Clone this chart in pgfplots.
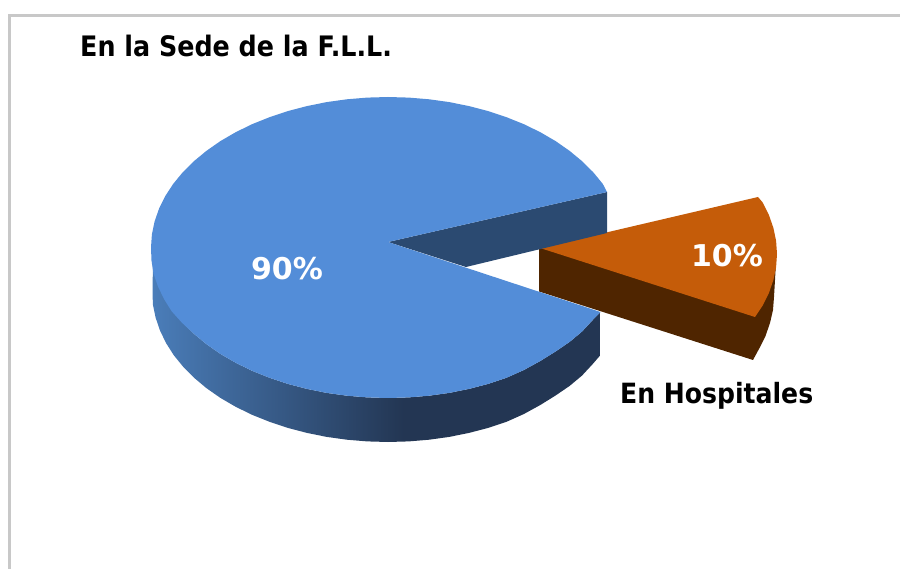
\documentclass[border=0pt]{standalone}
\usepackage{pgfplots}
\pgfplotsset{compat=1.18}
\usepackage{fontspec}
\setmainfont{DejaVu Sans}
\newfontfamily\cond{DejaVu Sans Condensed}
\definecolor{bluetop}{HTML}{538DD8}
\definecolor{bluein}{HTML}{2B4A71}
\definecolor{bluedark}{HTML}{233653}
\definecolor{blueleft}{HTML}{4A7DB9}
\definecolor{orangetop}{HTML}{C55C09}
\definecolor{orangewall}{HTML}{4F2500}
\definecolor{framegray}{HTML}{C8C8C8}
\pgfdeclarehorizontalshading{bluewall}{100bp}{
  color(0bp)=(blueleft); color(25bp)=(blueleft); color(53bp)=(bluedark); color(100bp)=(bluedark)}
\begin{document}
\begin{tikzpicture}
\begin{axis}[
  hide axis, scale only axis, width=900pt, height=569pt,
  xmin=0, xmax=900, ymin=0, ymax=569, y dir=reverse,
  no markers, clip=true]
% frame
\addplot[draw=framegray, line width=3pt] coordinates {(9.5,569)(9.5,15.5)(900,15.5)};
% orange slice, wall
\addplot[fill=orangewall, draw=none] coordinates {
(539,248)(776,262)(775,280)(774,297)(773,310)(770,323)(765.5,336)(759.5,348)(753,360)(539,291.5)(539,248)};
% orange slice, top
\addplot[fill=orangetop, draw=none] coordinates {
(540,248)(758,197)(762.7,202.5)(768.9,215)(773.4,227.9)(776.1,240.9)(777,254)(776.1,267.1)(773.4,280.1)(768.9,293)(762.7,305.5)(755,317)(540,248)};
% blue slice, inner wall
\addplot[fill=bluein, draw=none] coordinates {
(388,242)(607,192)(607,233)(466,267)(388,242)};
% blue slice, outer wall
\addplot[shade, shading=bluewall, draw=none] coordinates {
(153,262)(154.6,273.6)(159.1,286.5)(165.3,299)(173.2,311.1)(182.8,322.8)(193.9,333.8)(206.5,344.2)(220.4,353.9)(235.7,362.8)(252.1,370.8)(269.5,377.8)(287.8,383.9)(306.9,388.9)(326.7,392.9)(346.8,395.7)(367.3,397.4)(388,398)(408.7,397.4)(429.2,395.7)(449.3,392.9)(469.1,388.9)(488.2,383.9)(506.5,377.8)(523.9,370)(540.3,361)(555.6,351.5)(569.5,342)(582.1,331.5)(593.2,319.5)(600.5,312)
(600.5,355)(593.2,363.5)(582.1,375.5)(569.5,386)(555.6,395.5)(540.3,405)(523.9,414)(506.5,421.8)(488.2,427.9)(469.1,432.9)(449.3,436.9)(429.2,439.7)(408.7,441.4)(388,442)(367.3,441.4)(346.8,439.7)(326.7,436.9)(306.9,432.9)(287.8,427.9)(269.5,421.8)(252.1,414.8)(235.7,406.8)(220.4,397.9)(206.5,388.2)(194.1,377.8)(183.2,366.8)(173.7,355.1)(166,343)(160,330.5)(155.6,317.6)(152.9,304.6)(152.5,291.5)(153,262)};
% blue slice, top
\addplot[fill=bluetop, draw=none] coordinates {
(388,242)(607,192)(602.8,183.9)(593.2,172.2)(582.1,161.2)(569.5,150.8)(555.6,141.1)(540.3,132.2)(523.9,124.2)(506.5,117.2)(488.2,111.1)(469.1,106.1)(449.3,102.1)(429.2,99.3)(408.7,97.6)(388,97)
(367.3,97.6)(346.8,99.3)(326.7,102.1)(306.9,106.1)(287.8,111.1)(269.5,117.2)(252.1,124.2)(235.7,132.2)(220.4,141.1)(206.5,150.8)(193.9,161.2)(182.8,172.2)(173.2,183.9)(165.3,196)(159.1,208.5)(154.6,221.4)(151.9,234.4)(151,247.5)
(151.5,260.6)(153.5,273.6)(158,286.5)(164,299)(171.5,311.1)(182,322.8)(193.9,333.8)(206.5,344.2)(220.4,353.9)(235.7,362.8)(252.1,370.8)(269.5,377.8)(287.8,383.9)(306.9,388.9)(326.7,392.9)(346.8,395.7)(367.3,397.4)(388,398)
(408.7,397.4)(429.2,395.7)(449.3,392.9)(469.1,388.9)(488.2,383.9)(506.5,377.8)(523.9,370)(540.3,361)(555.6,351.5)(569.5,342)(582.1,331.5)(593.2,319.5)(600.5,312)(388,242)};
% texts
\node[anchor=center, text=white, font=\fontsize{30}{30}\selectfont\bfseries] at (axis cs:287,269) {90\%};
\node[anchor=center, text=white, font=\fontsize{30}{30}\selectfont\bfseries] at (axis cs:727,256) {10\%};
\node[anchor=base west, inner sep=0pt, text=black, font=\fontsize{28.2}{28}\selectfont\cond\bfseries] at (axis cs:80,57) {En la Sede de la F.L.L.};
\node[anchor=base west, inner sep=0pt, text=black, font=\fontsize{27.9}{28}\selectfont\cond\bfseries] at (axis cs:620,403) {En Hospitales};
\end{axis}
\pgfresetboundingbox
\path[use as bounding box] (current axis.south west) rectangle (current axis.north east);
\end{tikzpicture}
\end{document}
